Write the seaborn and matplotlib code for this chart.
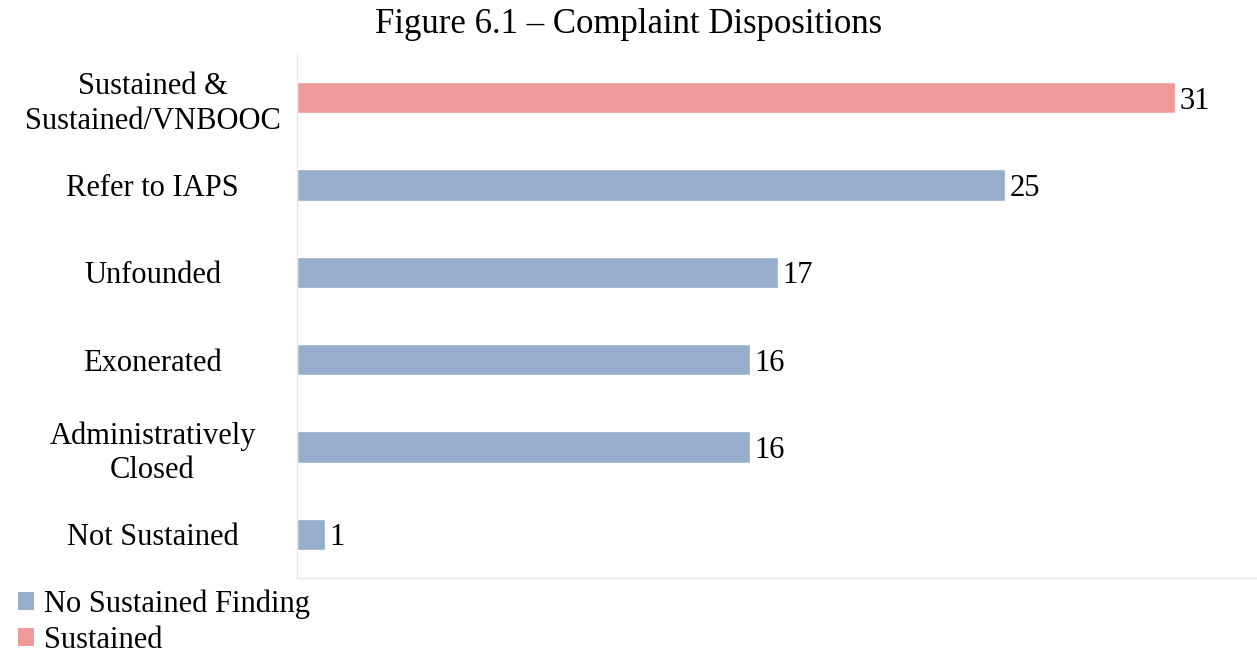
import seaborn as sns
import matplotlib.pyplot as plt
from matplotlib.patches import Patch
import pandas as pd

# values
categories = ['Sustained &\nSustained/VNBOOC', 'Refer to IAPS', 'Unfounded',
              'Exonerated', 'Administratively\nClosed', 'Not Sustained']
counts = [31, 25, 17, 16, 16, 1]
groups = ['Sustained', 'No Sustained Finding', 'No Sustained Finding',
          'No Sustained Finding', 'No Sustained Finding', 'No Sustained Finding']
legend_order = ['No Sustained Finding', 'Sustained']
colors = {'No Sustained Finding': '#94aecb', 'Sustained': '#f09999'}

df = pd.DataFrame({'category': categories, 'count': counts, 'group': groups})

sns.set_style('white')
plt.rcParams['font.family'] = ['Liberation Serif', 'DejaVu Serif']
plt.rcParams['text.color'] = 'black'
plt.rcParams['ytick.color'] = 'black'

fig = plt.figure(figsize=(12.57, 6.55), dpi=100)
ax = fig.add_axes([0.2363, 0.1176, 0.7637, 0.8])

sns.barplot(data=df, y='category', x='count', hue='group', hue_order=legend_order,
            palette=colors, order=categories, orient='h', dodge=False,
            width=0.36, legend=False, ax=ax, saturation=1)

for c in ax.containers:
    ax.bar_label(c, padding=3, fontsize=22, color='black')
for t in ax.texts:
    t.set_verticalalignment('center_baseline')

ax.set_xlim(0, 33.9)
ax.set_xlabel('')
ax.set_ylabel('')
ax.set_xticks([])
for side in ['top', 'right']:
    ax.spines[side].set_visible(False)
for side in ['left', 'bottom']:
    ax.spines[side].set_color('#e6e6e6')
    ax.spines[side].set_linewidth(1)

ax.tick_params(axis='y', length=0, pad=104, labelsize=22, labelcolor='black')
for lbl in ax.get_yticklabels():
    lbl.set_ha('center')
    lbl.set_multialignment('center')
    lbl.set_linespacing(1.25)

fig.suptitle('Figure 6.1 \u2013 Complaint Dispositions', fontsize=25, y=0.988, color='black')

handles = [Patch(facecolor=colors[g], edgecolor='none', label=g) for g in legend_order]
fig.legend(handles=handles, loc='lower left', bbox_to_anchor=(-0.003, -0.032), frameon=False,
           fontsize=22, handlelength=0.55, handleheight=0.55, handletextpad=0.3,
           labelspacing=0.22, borderaxespad=0.3)

plt.savefig('out.png', dpi=100)
plt.close()
